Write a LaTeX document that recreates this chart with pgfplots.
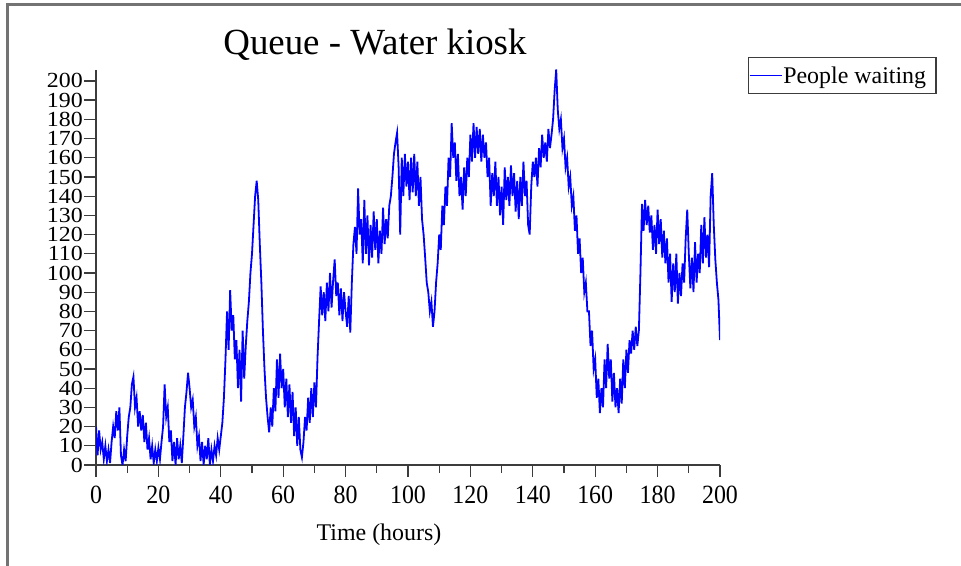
\documentclass[border=0pt]{standalone}
\usepackage{fontspec}
\setmainfont{Liberation Serif}
\usepackage{pgfplots}
\pgfplotsset{compat=1.18}
\definecolor{axgray}{RGB}{60,60,60}
\definecolor{framegray}{RGB}{115,115,115}
\definecolor{qblue}{RGB}{0,0,255}
\begin{document}
\begin{tikzpicture}
\begin{axis}[
 at={(96bp,101bp)}, anchor=south west,
 scale only axis, width=624bp, height=395bp,
 xmin=0, xmax=200, ymin=0, ymax=205.7,
 axis lines*=left,
 axis line style={axgray, line width=1.3bp},
 tick style={axgray, line width=1.3bp},
 tick align=outside,
 major tick length=12bp, minor tick length=8bp,
 xtick={0,20,...,200}, minor xtick={10,30,...,190},
 ytick={0,10,...,200},
 font=\fontsize{24}{26}\selectfont,
 /pgf/number format/assume math mode=true,
 xticklabel={\scalebox{1}[1.1]{\pgfmathprintnumber{\tick}}},
 xticklabel style={yshift=-5bp},
 yticklabel={\scalebox{1}[0.9]{\pgfmathprintnumber{\tick}}},
 yticklabel style={inner sep=1bp},
 title={Queue - Water kiosk},
 title style={at={(axis description cs:0.447,1.025)}, anchor=base, font=\fontsize{37}{40}\selectfont, inner sep=0pt},
 xlabel={Time (hours)},
 xlabel style={at={(axis description cs:0.4535,-0.19)}, anchor=base, inner sep=0pt},
 legend style={at={(axis description cs:1.045,1.033)}, anchor=north west, draw=axgray, line width=1.3bp,
   inner xsep=0pt, inner ysep=9bp, nodes={inner sep=0pt}, column sep=1bp},
 legend image code/.code={\draw[#1, line width=1.6bp] (0bp,0bp) -- (32bp,0bp);},
]
\addplot[qblue, line width=1.8bp] coordinates {
(0,20)(0.5,5)(1,18)(1.5,8)(2,12)(2.5,3)(3,10)(3.5,2)(4,8)(4.5,1)
(5,12)(5.5,20)(6,14)(6.5,28)(7,18)(7.5,30)(8,5)(8.5,0)(9,8)(9.5,2)
(10,15)(10.5,25)(11,30)(11.5,42)(12,46)(12.5,30)(13,35)(13.5,20)(14,28)(14.5,18)
(15,26)(15.5,12)(16,22)(16.5,8)(17,14)(17.5,3)(18,10)(18.5,1)(19,8)(19.5,2)
(20,9)(20.5,3)(21,12)(21.5,20)(22,42)(22.5,25)(23,30)(23.5,12)(24,18)(24.5,2)
(25,12)(25.5,0)(26,14)(26.5,3)(27,10)(27.5,1)(28,15)(28.5,30)(29,38)(29.5,48)
(30,40)(30.5,30)(31,34)(31.5,20)(32,25)(32.5,10)(33,15)(33.5,2)(34,12)(34.5,0)
(35,10)(35.5,3)(36,14)(36.5,0)(37,8)(37.5,2)(38,10)(38.5,5)(39,14)(39.5,8)
(40,15)(40.5,22)(41,35)(41.5,55)(42,80)(42.5,60)(43,91)(43.5,70)(44,78)(44.5,55)
(45,65)(45.5,40)(46,60)(46.5,33)(47,70)(47.5,45)(48,62)(48.5,75)(49,85)(49.5,100)
(50,110)(50.5,125)(51,140)(51.5,148)(52,138)(52.5,115)(53,95)(53.5,70)(54,50)(54.5,35)
(55,25)(55.5,17)(56,30)(56.5,20)(57,40)(57.5,28)(58,55)(58.5,35)(59,58)(59.5,40)
(60,50)(60.5,30)(61,45)(61.5,25)(62,42)(62.5,22)(63,38)(63.5,15)(64,30)(64.5,10)
(65,25)(65.5,8)(66,4)(66.5,12)(67,25)(67.5,18)(68,35)(68.5,22)(69,40)(69.5,25)
(70,43)(70.5,30)(71,56)(71.5,75)(72,93)(72.5,78)(73,90)(73.5,75)(74,95)(74.5,80)
(75,100)(75.5,82)(76,96)(76.5,107)(77,88)(77.5,95)(78,78)(78.5,92)(79,75)(79.5,90)
(80,80)(80.5,72)(81,88)(81.5,69)(82,95)(82.5,115)(83,124)(83.5,110)(84,144)(84.5,120)
(85,128)(85.5,105)(86,138)(86.5,110)(87,130)(87.5,104)(88,125)(88.5,108)(89,132)(89.5,112)
(90,128)(90.5,105)(91,122)(91.5,110)(92,134)(92.5,115)(93,128)(93.5,118)(94,135)(94.5,140)
(95,150)(95.5,162)(96,168)(96.5,173)(97,155)(97.5,120)(98,160)(98.5,140)(99,162)(99.5,145)
(100,158)(100.5,138)(101,160)(101.5,142)(102,162)(102.5,140)(103,158)(103.5,135)(104,150)(104.5,128)
(105,120)(105.5,108)(106,95)(106.5,90)(107,80)(107.5,85)(108,72)(108.5,80)(109,95)(109.5,105)
(110,120)(110.5,112)(111,135)(111.5,125)(112,145)(112.5,135)(113,160)(113.5,150)(114,178)(114.5,160)
(115,168)(115.5,148)(116,162)(116.5,140)(117,150)(117.5,133)(118,155)(118.5,140)(119,160)(119.5,150)
(120,172)(120.5,158)(121,178)(121.5,160)(122,176)(122.5,162)(123,175)(123.5,158)(124,172)(124.5,160)
(125,168)(125.5,150)(126,160)(126.5,135)(127,152)(127.5,140)(128,158)(128.5,135)(129,150)(129.5,130)
(130,145)(130.5,125)(131,155)(131.5,138)(132,150)(132.5,135)(133,156)(133.5,140)(134,152)(134.5,132)
(135,148)(135.5,128)(136,150)(136.5,135)(137,158)(137.5,140)(138,148)(138.5,125)(139,120)(139.5,145)
(140,158)(140.5,150)(141,160)(141.5,145)(142,165)(142.5,155)(143,172)(143.5,160)(144,168)(144.5,158)
(145,175)(145.5,165)(146,172)(146.5,180)(147,195)(147.5,206)(148,185)(148.5,175)(149,180)(149.5,165)
(150,170)(150.5,155)(151,160)(151.5,145)(152,150)(152.5,135)(153,140)(153.5,122)(154,130)(154.5,110)
(155,118)(155.5,100)(156,108)(156.5,90)(157,95)(157.5,80)(158,80)(158.5,62)(159,70)(159.5,50)
(160,55)(160.5,35)(161,45)(161.5,27)(162,40)(162.5,30)(163,55)(163.5,40)(164,63)(164.5,45)
(165,55)(165.5,33)(166,48)(166.5,30)(167,40)(167.5,27)(168,45)(168.5,32)(169,55)(169.5,40)
(170,60)(170.5,48)(171,65)(171.5,58)(172,70)(172.5,60)(173,72)(173.5,62)(174,70)(174.5,100)
(175,136)(175.5,122)(176,138)(176.5,125)(177,135)(177.5,121)(178,130)(178.5,112)(179,125)(179.5,110)
(180,133)(180.5,115)(181,128)(181.5,108)(182,122)(182.5,105)(183,118)(183.5,95)(184,110)(184.5,85)
(185,105)(185.5,90)(186,110)(186.5,84)(187,100)(187.5,88)(188,105)(188.5,95)(189,118)(189.5,133)
(190,110)(190.5,92)(191,108)(191.5,90)(192,116)(192.5,95)(193,110)(193.5,100)(194,125)(194.5,105)
(195,129)(195.5,108)(196,120)(196.5,103)(197,140)(197.5,152)(198,125)(198.5,107)(199,95)(199.5,86)
(200,65)
};
\addlegendentry{People waiting\kern10bp}
\end{axis}
\draw[framegray, line width=3bp] (7bp,0bp) -- (7bp,561bp) -- (961bp,561bp);
\pgfresetboundingbox
\path (0bp,0bp) rectangle (961bp,566bp);
\end{tikzpicture}
\end{document}
